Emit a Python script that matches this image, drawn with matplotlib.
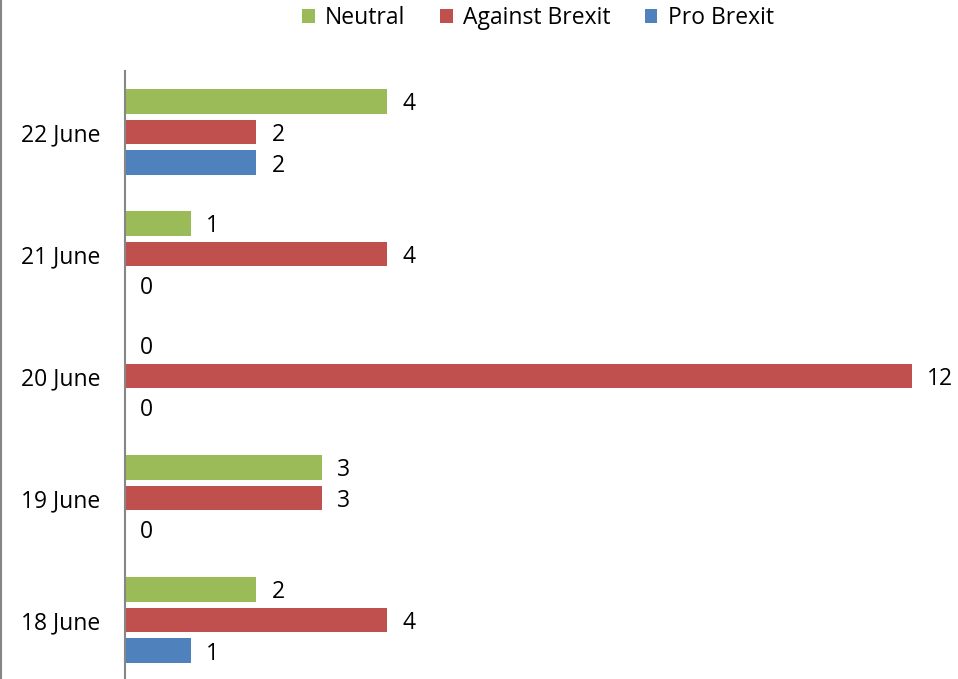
import matplotlib.pyplot as plt
from matplotlib.lines import Line2D
import numpy as np

plt.rcParams['font.family'] = ['Open Sans', 'DejaVu Sans']

dates = ["18 June", "19 June", "20 June", "21 June", "22 June"]
neutral = [2, 3, 0, 1, 4]
against = [4, 3, 12, 4, 2]
pro = [1, 0, 0, 0, 2]

fig = plt.figure(figsize=(9.58, 6.79), dpi=100)
W, H = 958, 679
# axes spans value 0 at x=125 to value 12 at x=912; bottom runs just past the image edge
ax = fig.add_axes([125 / W, -2 / H, (912 - 125) / W, 610 / H])

y = np.arange(len(dates))
h = 0.2
off = 0.25
fs = 16.5
series = [
    (neutral, off, "#9BBB59", "Neutral"),
    (against, 0.0, "#C0504D", "Against Brexit"),
    (pro, -off, "#4F81BD", "Pro Brexit"),
]
handles = []
for vals, dy, col, name in series:
    bars = ax.barh(y + dy, vals, height=h, color=col, label=name)
    handles.append(bars)
    for yy, v in zip(y + dy, vals):
        ax.annotate(str(v), (v, yy), xytext=(11, 0), textcoords="offset points",
                    ha="left", va="center_baseline", fontsize=fs,
                    annotation_clip=False)

ax.set_xlim(0, 12)
ax.set_ylim(-0.5, 4.5)
ax.set_yticks(y)
ax.set_yticklabels(dates, fontsize=fs, va="center_baseline")
ax.tick_params(axis="y", length=0, pad=18)
ax.set_xticks([])
for s in ["top", "right", "bottom"]:
    ax.spines[s].set_visible(False)
ax.spines["left"].set_color("#868686")
ax.spines["left"].set_linewidth(1.5)

# chart area border on the far left
fig.add_artist(Line2D([0.001, 0.001], [0, 1], transform=fig.transFigure,
                      color="#868686", lw=1.5))

fig.legend(handles=handles, loc="center", bbox_to_anchor=(538 / W, 1 - 18 / H),
           ncol=3, frameon=False, fontsize=fs, handlelength=0.55, handleheight=0.55,
           handletextpad=0.45, columnspacing=1.5, borderpad=0)

fig.savefig("out.png", dpi=100)
